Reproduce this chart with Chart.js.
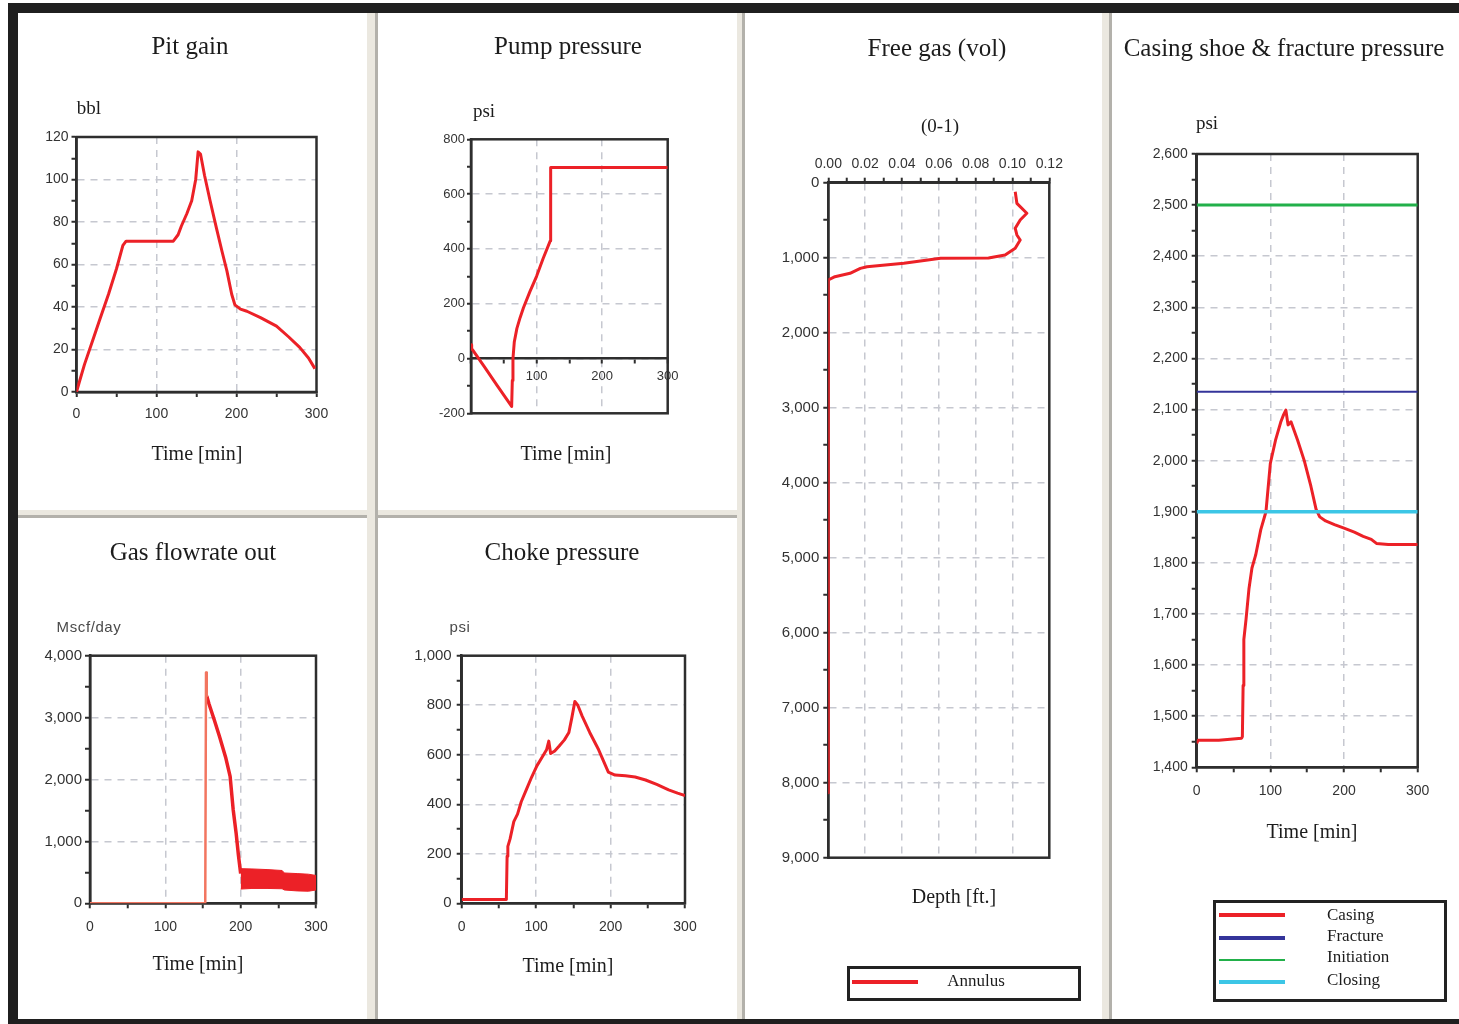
<!DOCTYPE html>
<html>
<head>
<meta charset="utf-8">
<title>Well control simulation</title>
<script src="https://cdn.jsdelivr.net/npm/chart.js@4.4.1/dist/chart.umd.min.js"></script>
<style>
  body { margin: 0; width: 1459px; height: 1024px; overflow: hidden; background: #fff; position: relative;
         font-family: 'Liberation Serif', 'Times New Roman', serif; }
  canvas { position: absolute; }
  .bar { position: absolute; background: #1f1f1f; }
  .sepv { position: absolute; background: #ebe8e0; border-right: 3px solid #b3b1ab; box-sizing: border-box; }
  .seph { position: absolute; background: #ebe8e0; border-bottom: 3px solid #b3b1ab; box-sizing: border-box; }
  .t { position: absolute; transform: translate(-50%, -50%); white-space: nowrap; color: #1c1c1c; }
  .title { font-size: 25px; }
  .unit { font-size: 19px; }
  .axt { font-size: 20px; }
  .sans { font-family: 'Liberation Sans', Arial, sans-serif; color: #4a4a4a; font-size: 15px; letter-spacing: 0.6px; }
  .legend { position: absolute; border: 3px solid #222; box-sizing: border-box; }
  .ln { position: absolute; }
  .lt { position: absolute; transform: translateY(-50%); font-size: 17px; color: #1c1c1c; white-space: nowrap; }
</style>
</head>
<body>
<div class="seph" style="left:18px;top:510px;width:350px;height:8px"></div>
<div class="seph" style="left:378px;top:510px;width:359px;height:8px"></div>
<div class="sepv" style="left:367px;top:13px;width:11px;height:1006px"></div>
<div class="sepv" style="left:737px;top:13px;width:8px;height:1006px"></div>
<div class="sepv" style="left:1102px;top:13px;width:10px;height:1006px"></div>
<div class="bar" style="left:8px;top:3px;width:1451px;height:10px"></div>
<div class="bar" style="left:8px;top:3px;width:10px;height:1021px"></div>
<div class="bar" style="left:8px;top:1019px;width:1451px;height:5px"></div>

<canvas id="pit"></canvas>
<canvas id="pump"></canvas>
<canvas id="gas"></canvas>
<canvas id="choke"></canvas>
<canvas id="freegas"></canvas>
<canvas id="casing"></canvas>

<div class="t title" style="left:190px;top:46px">Pit gain</div>
<div class="t unit" style="left:89px;top:108px">bbl</div>
<div class="t axt" style="left:197px;top:453px">Time [min]</div>

<div class="t title" style="left:568px;top:46px">Pump pressure</div>
<div class="t unit" style="left:484px;top:111px">psi</div>
<div class="t axt" style="left:566px;top:453px">Time [min]</div>

<div class="t title" style="left:193px;top:552px">Gas flowrate out</div>
<div class="t sans" style="left:89px;top:626px">Mscf/day</div>
<div class="t axt" style="left:198px;top:963px">Time [min]</div>

<div class="t title" style="left:562px;top:552px">Choke pressure</div>
<div class="t sans" style="left:460px;top:626px">psi</div>
<div class="t axt" style="left:568px;top:965px">Time [min]</div>

<div class="t title" style="left:937px;top:48px">Free gas (vol)</div>
<div class="t unit" style="left:940px;top:126px">(0-1)</div>
<div class="t axt" style="left:954px;top:896px">Depth [ft.]</div>

<div class="t title" style="left:1284px;top:48px">Casing shoe &amp; fracture pressure</div>
<div class="t unit" style="left:1207px;top:123px">psi</div>
<div class="t axt" style="left:1312px;top:831px">Time [min]</div>

<div class="legend" style="left:847px;top:966px;width:234px;height:35px"></div>
<div class="ln" style="left:852px;top:980px;width:66px;height:4px;background:#ec2127"></div>
<div class="t" style="left:976px;top:981px;font-size:17px">Annulus</div>

<div class="legend" style="left:1213px;top:900px;width:234px;height:102px"></div>
<div class="ln" style="left:1219px;top:913px;width:66px;height:4px;background:#ec2127"></div>
<div class="ln" style="left:1219px;top:936px;width:66px;height:4px;background:#34349a"></div>
<div class="ln" style="left:1219px;top:959px;width:66px;height:2px;background:#22b04a"></div>
<div class="ln" style="left:1219px;top:980px;width:66px;height:4px;background:#3cc6e6"></div>
<div class="lt" style="left:1327px;top:915px">Casing</div>
<div class="lt" style="left:1327px;top:936px">Fracture</div>
<div class="lt" style="left:1327px;top:957px">Initiation</div>
<div class="lt" style="left:1327px;top:980px">Closing</div>

<script>
const RED = '#ec2127';
const GRID = '#c6c8d0';
const AXIS = '#2e2e2e';

// Pit gain [bbl] vs time [min]
const pitTime = [0, 3, 10, 20, 29, 40, 50, 58, 62, 80, 100, 121, 127, 131, 138, 144, 149, 152, 155, 160, 167, 175, 182, 188, 194, 198, 205, 213, 230, 250, 265, 279, 290, 298];
const pitGain = [0, 4, 13, 24, 34, 46, 58, 69, 71, 71, 71, 71, 74, 78, 84, 90, 100, 113, 112, 102, 90, 77, 66, 57, 46, 41, 39, 38, 35, 31, 26, 21, 16, 11];

// Pump pressure [psi]
const pumpTime = [0, 1, 3, 20, 40, 62, 63, 64, 66, 70, 75, 80, 90, 100, 110, 121, 121.5, 140, 200, 300];
const pumpPsi = [50, 35, 30, -29, -99, -175, -80, 0, 60, 110, 150, 185, 245, 300, 365, 430, 697, 697, 697, 697];

// Gas flowrate out [Mscf/day]
const gasBaseTime = [0, 153, 154, 155];
const gasBaseRate = [0, 0, 3730, 3350];
const gasDropTime = [155, 158, 165, 172, 180, 186, 190, 194, 197, 200];
const gasDropRate = [3350, 3220, 2960, 2690, 2360, 2050, 1520, 1130, 780, 480];
const gasBandTime = [200, 215, 235, 255, 258, 275, 290, 300];
const gasBandHigh = [560, 555, 545, 530, 490, 480, 470, 450];
const gasBandLow = [230, 240, 240, 235, 215, 200, 195, 215];

// Choke pressure [psi]
const chokeTime = [0, 60, 61, 62, 65, 70, 75, 80, 87, 94, 101, 108, 114, 117, 119.5, 125, 131, 138, 144, 148, 152, 156, 162, 172, 184, 197, 206, 220, 233, 247, 262, 278, 290, 300];
const chokePsi = [15, 15, 190, 230, 260, 330, 360, 410, 460, 510, 555, 590, 620, 655, 605, 615, 635, 660, 690, 750, 815, 800, 755, 690, 620, 530, 518, 515, 510, 498, 480, 458, 445, 435];

// Free gas fraction vs depth [ft]
const freeGasFrac = [0.1015, 0.1024, 0.1078, 0.1042, 0.1015, 0.1024, 0.1042, 0.1015, 0.096, 0.087, 0.061, 0.041, 0.021, 0.0174, 0.0118, 0.0036, 0, 0];
const freeGasDepth = [120, 275, 408, 497, 608, 697, 764, 875, 964, 1004, 1008, 1075, 1120, 1142, 1208, 1253, 1297, 8133];

// Casing shoe pressure and limits [psi]
const casingTime = [0, 2, 30, 61, 62, 63, 64, 67, 71, 75, 80, 87, 94, 100, 107, 114, 118, 121, 124, 128, 137, 146, 155, 162, 167, 175, 187, 200, 214, 226, 237, 244, 260, 300];
const casingPsi = [1447, 1453, 1453, 1457, 1460, 1560, 1650, 1690, 1750, 1790, 1815, 1865, 1900, 1995, 2040, 2075, 2090, 2099, 2070, 2076, 2040, 2000, 1950, 1905, 1890, 1882, 1875, 1868, 1860, 1852, 1846, 1838, 1836, 1836];
const limitTime = [0, 300];
const fracturePsi = [2135, 2135];
const initiationPsi = [2500, 2500];
const closingPsi = [1900, 1900];

Chart.defaults.font.family = "'Liberation Sans', Arial, sans-serif";
Chart.defaults.color = '#333';

function pts(xs, ys) {
    return xs.map((x, i) => ({ x: x, y: ys[i] }));
}

function onStep(v, step) {
    return Math.abs(v / step - Math.round(v / step)) < 1e-6;
}

const comma = v => v.toLocaleString('en-US');

function axis(o) {
    const eps = (o.max - o.min) * 1e-6;
    const hide = o.hide || [];
    return {
        type: 'linear',
        position: o.pos,
        reverse: !!o.reverse,
        min: o.min,
        max: o.max,
        ticks: {
            stepSize: o.step, autoSkip: false, maxRotation: 0, minRotation: 0,
            padding: o.pad, color: '#333', font: { size: o.font || 14 },
            callback: v => (onStep(v, o.major) && !hide.some(h => Math.abs(h - v) < eps)) ? o.fmt(v) : ''
        },
        grid: {
            color: c => {
                const v = c.tick ? c.tick.value : NaN;
                return (onStep(v, o.major) && v > o.min + eps && v < o.max - eps) ? GRID : 'rgba(0,0,0,0)';
            },
            lineWidth: 1.5,
            tickColor: AXIS, tickWidth: 2, tickLength: o.tick || 5
        },
        border: { color: AXIS, width: 2.5, dash: [7, 6] }
    };
}

function line(data, color, width) {
    return { data: data, borderColor: color, backgroundColor: color, borderWidth: width,
             pointRadius: 0, tension: 0, fill: false, borderJoinStyle: 'round' };
}

const frame = {
    id: 'frame',
    beforeDatasetsDraw(chart) {
        const { ctx, chartArea: a } = chart;
        ctx.save();
        ctx.strokeStyle = AXIS;
        ctx.lineWidth = 2.5;
        ctx.strokeRect(a.left, a.top, a.right - a.left, a.bottom - a.top);
        ctx.restore();
    }
};

function fixSize(sc, size) {
    sc.afterFit = s => {
        if (s.isHorizontal()) {
            if (size != null) s.height = size;
            s.paddingLeft = 0; s.paddingRight = 0;
        } else {
            s.width = size;
            s.paddingTop = 0; s.paddingBottom = 0;
        }
    };
}

function draw(id, box, plot, scales, datasets) {
    const cv = document.getElementById(id);
    cv.style.left = box[0] + 'px';
    cv.style.top = box[1] + 'px';
    cv.width = box[2];
    cv.height = box[3];
    const yW = plot.l - box[0] - 4;
    const xTop = scales.x.position === 'top';
    const xFloat = typeof scales.x.position === 'object';
    const xH = xTop ? 40 : 50;
    const padding = {
        left: 4,
        right: box[0] + box[2] - plot.r,
        top: plot.t - box[1] - (xTop ? xH : 0),
        bottom: box[1] + box[3] - plot.b - ((xTop || xFloat) ? 0 : xH)
    };
    fixSize(scales.y, yW);
    fixSize(scales.x, xFloat ? null : xH);
    return new Chart(cv, {
        type: 'line',
        data: { datasets: datasets },
        options: {
            responsive: false, animation: false, devicePixelRatio: 1, events: [],
            layout: { padding: padding },
            plugins: { legend: { display: false }, tooltip: { enabled: false } },
            scales: scales
        },
        plugins: [frame]
    });
}

draw('pit', [18, 13, 350, 498], { l: 76.5, t: 137, r: 316.5, b: 392 }, {
    x: axis({ pos: 'bottom', min: 0, max: 300, step: 50, major: 100, fmt: String, pad: 9 }),
    y: axis({ pos: 'left', min: 0, max: 120, step: 10, major: 20, fmt: String, pad: 3 })
}, [line(pts(pitTime, pitGain), RED, 3)]);

const pumpX = axis({ min: 0, max: 300, step: 50, major: 100, fmt: String, hide: [0], pad: 6, tick: 4, font: 13 });
pumpX.position = { y: 0 };
draw('pump', [378, 13, 359, 498], { l: 471, t: 139.3, r: 667.7, b: 413.3 }, {
    x: pumpX,
    y: axis({ pos: 'left', min: -200, max: 800, step: 100, major: 200, fmt: String, pad: 2, tick: 4, font: 13 })
}, [line(pts(pumpTime, pumpPsi), RED, 3)]);

const gasBand = line(pts(gasBandTime, gasBandHigh), RED, 1);
gasBand.fill = '-1';
draw('gas', [18, 518, 350, 501], { l: 90, t: 655.7, r: 316, b: 903.3 }, {
    x: axis({ pos: 'bottom', min: 0, max: 300, step: 50, major: 100, fmt: String, pad: 10 }),
    y: axis({ pos: 'left', min: 0, max: 4000, step: 500, major: 1000, fmt: comma, pad: 3, font: 15 })
}, [
    line(pts(gasBaseTime, gasBaseRate), '#f27560', 2.5),
    line(pts(gasDropTime, gasDropRate), RED, 3.5),
    line(pts(gasBandTime, gasBandLow), RED, 1),
    gasBand
]);

draw('choke', [378, 518, 359, 501], { l: 461.7, t: 655.7, r: 685, b: 903.3 }, {
    x: axis({ pos: 'bottom', min: 0, max: 300, step: 50, major: 100, fmt: String, pad: 10 }),
    y: axis({ pos: 'left', min: 0, max: 1000, step: 100, major: 200, fmt: comma, pad: 5, font: 15 })
}, [line(pts(chokeTime, chokePsi), RED, 3)]);

draw('freegas', [745, 13, 357, 1006], { l: 828.3, t: 182.7, r: 1049.3, b: 857.7 }, {
    x: axis({ pos: 'top', min: 0, max: 0.12, step: 0.01, major: 0.02, fmt: v => v.toFixed(2), pad: 5 }),
    y: axis({ pos: 'left', reverse: true, min: 0, max: 9000, step: 500, major: 1000, fmt: comma, pad: 4, font: 15 })
}, [line(pts(freeGasFrac, freeGasDepth), RED, 3)]);

draw('casing', [1112, 13, 347, 1006], { l: 1196.7, t: 154, r: 1417.7, b: 767.3 }, {
    x: axis({ pos: 'bottom', min: 0, max: 300, step: 50, major: 100, fmt: String, pad: 10 }),
    y: axis({ pos: 'left', min: 1400, max: 2600, step: 50, major: 100, fmt: comma, pad: 4 })
}, [
    line(pts(limitTime, closingPsi), '#3cc6e6', 3.5),
    line(pts(limitTime, initiationPsi), '#22b04a', 3),
    line(pts(limitTime, fracturePsi), '#34349a', 2),
    line(pts(casingTime, casingPsi), RED, 3)
]);
</script>
</body>
</html>
